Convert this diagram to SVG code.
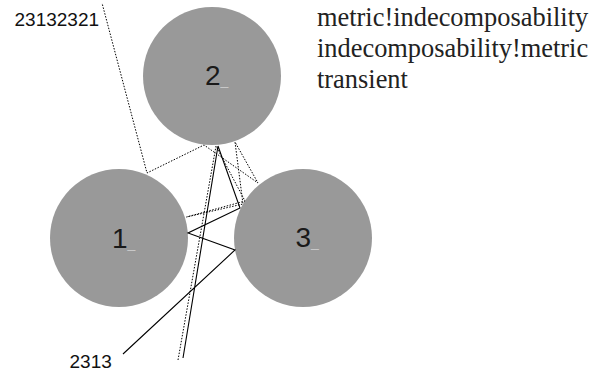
<svg xmlns="http://www.w3.org/2000/svg" width="600" height="375" viewBox="0 0 600 375">
<style>
.node circle{fill:#999999;stroke:none}
.nl{font-family:"Liberation Sans",Arial,sans-serif;font-size:28px;fill:#1a1a1a}
.sub{font-size:14px;fill:#c8c8c8}
.lab{font-family:"Liberation Sans",Arial,sans-serif;font-size:19px;fill:#111}
.idx{font-family:"Liberation Serif","Times New Roman",serif;font-size:26.4px;fill:#222}
.solid{fill:none;stroke:#000;stroke-width:1.1;stroke-linejoin:miter}
.dot{fill:none;stroke:#000;stroke-width:1;stroke-dasharray:1.5 1.5}
</style>
<rect width="600" height="375" fill="#fff"/>
<g id="node2" class="node"><circle cx="212" cy="76" r="69"/><text class="nl" x="205" y="85">2<tspan class="sub">_</tspan></text></g>
<g id="node1" class="node"><circle cx="119" cy="238" r="69"/><text class="nl" x="112" y="248">1<tspan class="sub">_</tspan></text></g>
<g id="node3" class="node"><circle cx="303" cy="238" r="69"/><text class="nl" x="295.5" y="247">3<tspan class="sub">_</tspan></text></g>
<g id="connectors">
<polyline class="dot" points="178,360 216,146 245,201 186.5,217 243,204 235,142 258,183 204,145 147,173 102,3"/>
<polyline class="solid" points="183,358 218,146 240,208 188,233 235,250 123,354"/>
</g>
<g id="labels">
<text class="lab" x="14.5" y="26">23132321</text>
<text class="lab" x="69.5" y="368">2313</text>
<text class="idx" x="317" y="25.5">metric!indecomposability</text>
<text class="idx" x="317" y="57">indecomposability!metric</text>
<text class="idx" x="317" y="88">transient</text>
</g>
</svg>
